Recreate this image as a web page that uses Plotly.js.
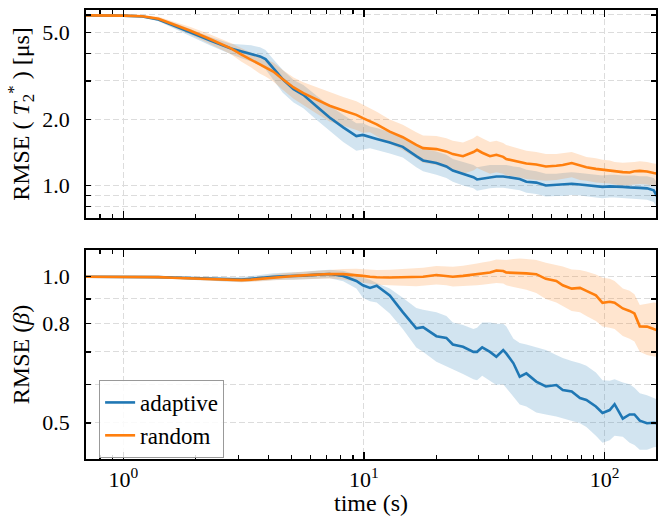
<!DOCTYPE html>
<html>
<head>
<meta charset="utf-8">
<script src="https://cdn.plot.ly/plotly-3.0.1.min.js"></script>
<style>html,body{margin:0;padding:0;background:#fff;}#chart{width:658px;height:516px;}</style>
</head>
<body>
<div id="chart"></div>
<script>
// time (s)
const timeS = [0.7, 0.9, 1.0, 1.2, 1.4, 1.6, 1.9, 2.3, 2.8, 3.1, 3.4, 3.7, 3.9, 4.2, 4.6, 5.1, 5.6, 6.4, 7.2, 8.2,
  9.3, 9.9, 10.6, 11.3, 12.8, 14.5, 16.5, 17.6, 20, 22, 23.4, 25.8, 28.5, 29.5, 31, 33.4, 35.5, 37.9, 39, 41.8,
  44.4, 47.3, 52, 57, 63, 67, 73, 79, 84, 92, 98, 105, 110, 119, 127, 133, 140, 150, 160, 168];

// RMSE(T2*) [us] – adaptive
const t2AdaptMean = [5.97, 5.97, 5.96, 5.9, 5.72, 5.4, 4.98, 4.58, 4.22, 4.1, 4.0, 3.88, 3.77, 3.43, 3.05, 2.75, 2.59, 2.28, 2.04, 1.84,
  1.68, 1.70, 1.66, 1.63, 1.57, 1.50, 1.36, 1.30, 1.265, 1.22, 1.17, 1.13, 1.09, 1.065, 1.075, 1.095, 1.099, 1.099, 1.095, 1.08,
  1.07, 1.04, 1.03, 1.0, 1.005, 1.007, 1.018, 1.01, 1.005, 0.99, 0.985, 0.99, 0.99, 0.985, 0.98, 0.98, 0.975, 0.97, 0.95, 0.86];
const t2AdaptHi = [6.0, 6.0, 5.99, 5.96, 5.83, 5.56, 5.18, 4.76, 4.43, 4.39, 4.36, 4.27, 4.15, 3.77, 3.36, 3.03, 2.87, 2.55, 2.31, 2.10,
  1.92, 1.92, 1.86, 1.83, 1.76, 1.68, 1.53, 1.47, 1.43, 1.38, 1.32, 1.28, 1.24, 1.21, 1.22, 1.24, 1.24, 1.24, 1.24, 1.22,
  1.21, 1.18, 1.16, 1.13, 1.13, 1.14, 1.15, 1.14, 1.13, 1.12, 1.11, 1.12, 1.12, 1.11, 1.11, 1.11, 1.10, 1.10, 1.08, 1.0];
const t2AdaptLo = [5.94, 5.94, 5.93, 5.84, 5.61, 5.24, 4.78, 4.35, 3.97, 3.81, 3.68, 3.53, 3.39, 3.02, 2.65, 2.39, 2.25, 1.98, 1.77, 1.58,
  1.44, 1.46, 1.48, 1.45, 1.40, 1.34, 1.21, 1.16, 1.12, 1.08, 1.04, 1.0, 0.97, 0.945, 0.955, 0.97, 0.975, 0.975, 0.97, 0.96,
  0.95, 0.925, 0.915, 0.89, 0.895, 0.895, 0.905, 0.9, 0.895, 0.88, 0.875, 0.88, 0.88, 0.875, 0.87, 0.87, 0.865, 0.86, 0.84, 0.76];

// RMSE(T2*) [us] – random
const t2RandMean = [5.97, 5.97, 5.96, 5.92, 5.76, 5.45, 5.08, 4.65, 4.22, 3.95, 3.75, 3.55, 3.45, 3.31, 3.05, 2.8, 2.64, 2.46, 2.31, 2.2,
  2.1, 2.03, 1.97, 1.9, 1.76, 1.66, 1.53, 1.48, 1.465, 1.43, 1.39, 1.36, 1.42, 1.454, 1.41, 1.36, 1.38, 1.35, 1.32, 1.30,
  1.28, 1.26, 1.245, 1.22, 1.23, 1.24, 1.265, 1.23, 1.21, 1.19, 1.18, 1.17, 1.155, 1.15, 1.145, 1.16, 1.165, 1.158, 1.14, 1.13];
const t2RandHi = [6.0, 6.0, 5.99, 5.98, 5.88, 5.61, 5.28, 4.88, 4.47, 4.23, 4.05, 3.87, 3.76, 3.64, 3.36, 3.11, 2.96, 2.8, 2.66, 2.53,
  2.42, 2.34, 2.25, 2.17, 2.0, 1.89, 1.75, 1.69, 1.68, 1.64, 1.6, 1.57, 1.64, 1.69, 1.64, 1.58, 1.6, 1.56, 1.53, 1.5,
  1.47, 1.44, 1.42, 1.39, 1.39, 1.40, 1.42, 1.38, 1.35, 1.33, 1.31, 1.30, 1.28, 1.27, 1.27, 1.28, 1.29, 1.28, 1.26, 1.25];
const t2RandLo = [5.94, 5.94, 5.93, 5.86, 5.64, 5.29, 4.88, 4.42, 3.97, 3.67, 3.45, 3.23, 3.14, 2.98, 2.73, 2.49, 2.32, 2.12, 1.96, 1.87,
  1.79, 1.74, 1.75, 1.68, 1.55, 1.45, 1.33, 1.27, 1.24, 1.2, 1.16, 1.13, 1.17, 1.2, 1.17, 1.13, 1.15, 1.13, 1.11, 1.1,
  1.09, 1.07, 1.06, 1.05, 1.06, 1.07, 1.09, 1.06, 1.05, 1.03, 1.025, 1.02, 1.01, 1.0, 1.0, 1.01, 1.015, 1.01, 0.995, 0.985];

// RMSE(beta) – adaptive
const betaAdaptMean = [1.0, 1.0, 1.0, 1.0, 0.998, 0.996, 0.993, 0.99, 0.987, 0.986, 0.99, 0.995, 0.998, 1.0, 1.002, 1.003, 1.005, 1.01, 1.013, 1.003,
  0.98, 0.96, 0.948, 0.958, 0.915, 0.845, 0.783, 0.787, 0.754, 0.748, 0.725, 0.717, 0.7, 0.7, 0.715, 0.7, 0.684, 0.706, 0.695, 0.663,
  0.622, 0.632, 0.608, 0.594, 0.598, 0.584, 0.58, 0.562, 0.557, 0.54, 0.524, 0.531, 0.546, 0.51, 0.52, 0.52, 0.505, 0.499, 0.5, 0.498];
const betaAdaptHi = [1.002, 1.002, 1.002, 1.003, 1.003, 1.003, 1.002, 1.0, 0.998, 0.998, 1.003, 1.009, 1.013, 1.016, 1.019, 1.021, 1.024, 1.03, 1.034, 1.028,
  1.01, 0.995, 0.985, 0.97, 0.945, 0.905, 0.862, 0.855, 0.845, 0.83, 0.805, 0.795, 0.78, 0.785, 0.805, 0.805, 0.8, 0.8, 0.79, 0.745,
  0.73, 0.725, 0.715, 0.706, 0.69, 0.68, 0.67, 0.663, 0.655, 0.635, 0.612, 0.61, 0.615, 0.605, 0.6, 0.59, 0.575, 0.57, 0.562, 0.557];
const betaAdaptLo = [0.998, 0.998, 0.998, 0.997, 0.993, 0.989, 0.984, 0.98, 0.976, 0.974, 0.977, 0.981, 0.983, 0.984, 0.985, 0.985, 0.986, 0.99, 0.992, 0.978,
  0.945, 0.905, 0.89, 0.885, 0.84, 0.78, 0.715, 0.7, 0.668, 0.655, 0.645, 0.63, 0.615, 0.612, 0.625, 0.61, 0.598, 0.6, 0.59, 0.566,
  0.545, 0.54, 0.525, 0.52, 0.515, 0.51, 0.505, 0.499, 0.49, 0.47, 0.455, 0.46, 0.47, 0.468, 0.455, 0.45, 0.44, 0.44, 0.445, 0.446];

// RMSE(beta) – random
const betaRandMean = [1.0, 1.0, 1.0, 1.0, 0.998, 0.995, 0.992, 0.988, 0.985, 0.984, 0.986, 0.99, 0.993, 0.997, 1.0, 1.003, 1.006, 1.01, 1.013, 1.012,
  1.008, 1.004, 1.0, 0.997, 0.996, 0.997, 0.998, 1.0, 1.008, 1.005, 1.0, 1.004, 1.01, 1.012, 1.015, 1.02, 1.03, 1.027, 1.02, 1.019,
  1.018, 1.016, 1.012, 0.99, 0.98, 0.96, 0.945, 0.948, 0.935, 0.915, 0.883, 0.888, 0.884, 0.86, 0.85, 0.84, 0.79, 0.789, 0.78, 0.774];
const betaRandHi = [1.002, 1.002, 1.002, 1.003, 1.002, 1.0, 0.998, 0.995, 0.993, 0.993, 0.996, 1.002, 1.006, 1.011, 1.016, 1.02, 1.024, 1.03, 1.035, 1.037,
  1.038, 1.036, 1.034, 1.032, 1.033, 1.036, 1.04, 1.043, 1.052, 1.05, 1.048, 1.053, 1.06, 1.064, 1.07, 1.076, 1.085, 1.085, 1.082, 1.088,
  1.09, 1.088, 1.082, 1.068, 1.058, 1.05, 1.035, 1.032, 1.025, 1.01, 0.995, 0.99, 0.98, 0.945, 0.935, 0.92, 0.874, 0.88, 0.885, 0.881];
const betaRandLo = [0.998, 0.998, 0.998, 0.997, 0.994, 0.99, 0.986, 0.981, 0.977, 0.975, 0.976, 0.978, 0.98, 0.983, 0.984, 0.986, 0.988, 0.99, 0.991, 0.987,
  0.978, 0.972, 0.967, 0.962, 0.96, 0.958, 0.956, 0.958, 0.963, 0.96, 0.955, 0.957, 0.96, 0.96, 0.962, 0.965, 0.97, 0.968, 0.96, 0.952,
  0.945, 0.94, 0.925, 0.9, 0.885, 0.87, 0.85, 0.845, 0.83, 0.81, 0.789, 0.785, 0.78, 0.755, 0.745, 0.735, 0.7, 0.69, 0.685, 0.684];

const seriesNames = ["adaptive", "random"];
const xMajorTicks = [1, 10, 100];
const xMajorText = ["10<sup>0</sup>", "10<sup>1</sup>", "10<sup>2</sup>"];
const xMinorTicks = [0.7, 0.8, 0.9, 2, 3, 4, 5, 6, 7, 8, 9, 20, 30, 40, 50, 60, 70, 80, 90, 200];
const t2TickVals = [1.0, 2.0, 5.0];
const t2TickText = ["1.0", "2.0", "5.0"];
const t2MinorTicks = [0.8, 0.9, 3, 4, 6];
const betaTickVals = [0.5, 0.8, 1.0];
const betaTickText = ["0.5", "0.8", "1.0"];
const betaMinorTicks = [0.6, 0.7, 0.9];

const BLUE = "#1f77b4", ORANGE = "#ff7f0e";
const BLUE_F = "rgba(31,119,180,0.2)", ORANGE_F = "rgba(255,127,14,0.2)";
const FONT = "Liberation Serif";
const TICKSZ = 22, TITLESZ = 24;

function band(lo, hi, fill, xa, ya) {
  return {
    x: timeS.concat(timeS.slice().reverse()),
    y: hi.concat(lo.slice().reverse()),
    xaxis: xa, yaxis: ya, type: "scatter", mode: "lines",
    fill: "toself", fillcolor: fill, line: {width: 0, color: fill},
    showlegend: false, hoverinfo: "skip"
  };
}
function line(y, color, name, xa, ya, legend) {
  return {x: timeS, y: y, xaxis: xa, yaxis: ya, type: "scatter", mode: "lines",
    line: {color: color, width: 2.6}, name: name, showlegend: legend};
}

const data = [
  band(t2AdaptLo, t2AdaptHi, BLUE_F, "x2", "y2"),
  band(t2RandLo, t2RandHi, ORANGE_F, "x2", "y2"),
  line(t2AdaptMean, BLUE, seriesNames[0], "x2", "y2", false),
  line(t2RandMean, ORANGE, seriesNames[1], "x2", "y2", false),
  band(betaAdaptLo, betaAdaptHi, BLUE_F, "x", "y"),
  band(betaRandLo, betaRandHi, ORANGE_F, "x", "y"),
  line(betaAdaptMean, BLUE, seriesNames[0], "x", "y", true),
  line(betaRandMean, ORANGE, seriesNames[1], "x", "y", true)
];

const GRID = "#dcdcdc";
const xRange = [Math.log10(0.70), Math.log10(163.5)];
function xAxis(extra) {
  return Object.assign({
    type: "log", range: xRange, domain: [0, 1],
    tickmode: "array", tickvals: xMajorTicks, ticktext: xMajorText,
    ticks: "inside", ticklen: 7, tickwidth: 1.5, tickcolor: "#000",
    showline: true, linecolor: "#000", linewidth: 1.8, mirror: "ticks",
    showgrid: true, gridcolor: GRID, griddash: "6px,3px", gridwidth: 1,
    minor: {tickmode: "array", tickvals: xMinorTicks, ticks: "inside", ticklen: 4, tickwidth: 1.2, tickcolor: "#000", showgrid: false},
    zeroline: false, fixedrange: true,
    tickfont: {family: FONT, size: TICKSZ, color: "#000"}
  }, extra);
}
function yAxis(extra, minorVals) {
  return Object.assign({
    type: "log", tickmode: "array",
    ticks: "inside", ticklen: 5, tickwidth: 1.5, tickcolor: "#000",
    showline: true, linecolor: "#000", linewidth: 1.8, mirror: "ticks",
    showgrid: true, gridcolor: GRID, griddash: "6px,3px", gridwidth: 1,
    minor: {tickmode: "array", tickvals: minorVals, ticks: "inside", ticklen: 5, tickwidth: 1.5, tickcolor: "#000",
      showgrid: true, gridcolor: GRID, griddash: "6px,3px", gridwidth: 1},
    zeroline: false, fixedrange: true, ticklabelstandoff: 10,
    tickfont: {family: FONT, size: TICKSZ, color: "#000"}
  }, extra);
}

const layout = {
  width: 658, height: 516,
  margin: {l: 86, r: 2, t: 10, b: 57},
  paper_bgcolor: "#fff", plot_bgcolor: "#fff",
  font: {family: FONT, size: TICKSZ, color: "#000"},
  showlegend: true,
  legend: {x: 0.023, y: 0.176, xanchor: "left", yanchor: "top",
    bgcolor: "rgba(255,255,255,0.85)", bordercolor: "#999", borderwidth: 1,
    font: {family: FONT, size: 23, color: "#000"}, tracegroupgap: 0, itemwidth: 30},
  xaxis: xAxis({anchor: "y", ticklabelstandoff: 0,
    title: {text: "time (s)", font: {family: FONT, size: TITLESZ, color: "#000"}, standoff: 4}}),
  xaxis2: xAxis({anchor: "y2", matches: "x", showticklabels: false}),
  yaxis: yAxis({domain: [0, 0.4655], anchor: "x",
    range: [Math.log10(0.421), Math.log10(1.135)],
    tickvals: betaTickVals, ticktext: betaTickText,
    title: {text: "RMSE (<i>β</i>)", font: {family: FONT, size: TITLESZ, color: "#000"}, standoff: 6}}, betaMinorTicks),
  yaxis2: yAxis({domain: [0.5367, 1], anchor: "x2",
    range: [Math.log10(0.710), Math.log10(6.32)],
    tickvals: t2TickVals, ticktext: t2TickText,
    title: {text: "RMSE ( <i>T</i><sub>2</sub><sup>*</sup> ) [μs]", font: {family: FONT, size: TITLESZ, color: "#000"}, standoff: 6}}, t2MinorTicks)
};

Plotly.newPlot("chart", data, layout, {staticPlot: true, displayModeBar: false});
</script>
</body>
</html>
